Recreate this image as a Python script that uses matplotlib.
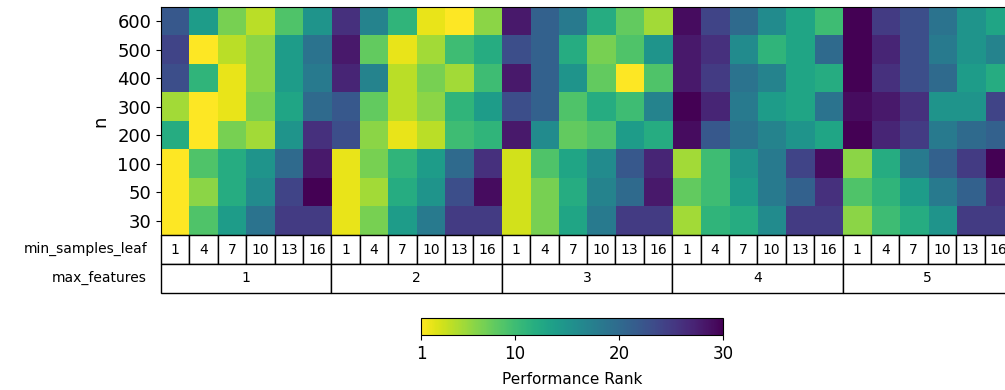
import numpy as np
import matplotlib
matplotlib.use("Agg")
import matplotlib.pyplot as plt
from matplotlib.patches import Rectangle

n_values = ["600", "500", "400", "300", "200", "100", "50", "30"]
min_samples_leaf = [1, 4, 7, 10, 13, 16]
max_features = [1, 2, 3, 4, 5]

# Performance rank per n (rows) for each (max_features, min_samples_leaf) combination
rank_600 = [22, 14, 7, 4, 9, 15,  26, 17, 11, 2, 1, 6,  28, 21, 18, 12, 8, 5,  29, 24, 20, 16, 13, 10,  30, 25, 23, 19, 15, 13]
rank_500 = [24, 1, 4, 6, 14, 19,  28, 8, 2, 5, 10, 12,  23, 21, 12, 7, 9, 15,  28, 26, 16, 11, 13, 20,  30, 27, 23, 18, 15, 17]
rank_400 = [23, 11, 2, 6, 14, 18,  27, 17, 4, 7, 5, 10,  28, 21, 15, 8, 1, 9,  28, 25, 19, 17, 13, 12,  30, 26, 23, 20, 14, 12]
rank_300 = [5, 1, 2, 7, 13, 20,  22, 8, 4, 6, 11, 14,  23, 21, 9, 12, 10, 17,  30, 27, 18, 14, 13, 19,  29, 28, 26, 15, 15, 24]
rank_200 = [12, 1, 7, 5, 15, 26,  23, 6, 2, 4, 10, 11,  28, 16, 8, 9, 14, 12,  29, 22, 19, 17, 15, 13,  30, 27, 25, 18, 20, 21]
rank_100 = [1, 9, 12, 15, 20, 28,  2, 7, 11, 14, 20, 26,  3, 9, 13, 16, 22, 27,  5, 10, 15, 18, 24, 29,  6, 12, 18, 21, 25, 30]
rank_50 = [1, 6, 12, 16, 24, 30,  2, 5, 12, 15, 23, 29,  3, 7, 12, 17, 20, 28,  8, 10, 14, 18, 21, 26,  9, 11, 14, 18, 21, 26]
rank_30 = [1, 9, 14, 19, 25, 25,  2, 7, 14, 18, 25, 25,  3, 7, 13, 18, 25, 25,  5, 11, 12, 16, 25, 25,  6, 10, 12, 15, 25, 25]

data = np.array([rank_600, rank_500, rank_400, rank_300, rank_200, rank_100, rank_50, rank_30])
ncols = data.shape[1]
nrows = data.shape[0]

W, H = 10.05, 3.9
fig = plt.figure(figsize=(W, H), dpi=100)

def px_axes(x0, y0, x1, y1):
    return fig.add_axes([x0 / 1005, 1 - y1 / 390, (x1 - x0) / 1005, (y1 - y0) / 390])

# Heatmap
ax = px_axes(161, 7, 1013, 235)
im = ax.imshow(data, cmap="viridis_r", vmin=1, vmax=30, aspect="auto",
               extent=(0, ncols, nrows, 0), interpolation="nearest")
ax.set_xlim(0, ncols)
ax.set_ylim(nrows, 0)
ax.set_yticks(np.arange(nrows) + 0.5)
ax.set_yticklabels(n_values, fontsize=13)
ax.set_xticks([])
ax.set_ylabel("n", fontsize=13, labelpad=6)
ax.tick_params(axis="y", length=3.5)

# Table of hyperparameters below
tax = px_axes(161, 235, 1013, 293)
tax.set_xlim(0, ncols)
tax.set_ylim(2, 0)
tax.axis("off")
for g, mf in enumerate(max_features):
    for j, msl in enumerate(min_samples_leaf):
        c = g * len(min_samples_leaf) + j
        tax.add_patch(Rectangle((c, 0), 1, 1, facecolor="white", edgecolor="black", lw=1, clip_on=False))
        tax.text(c + 0.5, 0.5, str(msl), ha="center", va="center", fontsize=10)
    x0 = g * len(min_samples_leaf)
    tax.add_patch(Rectangle((x0, 1), len(min_samples_leaf), 1, facecolor="white", edgecolor="black", lw=1, clip_on=False))
    tax.text(x0 + len(min_samples_leaf) / 2, 1.5, str(mf), ha="center", va="center", fontsize=10)
fig.text(147 / 1005, 1 - 249 / 390, "min_samples_leaf", ha="right", va="center", fontsize=10)
fig.text(147 / 1005, 1 - 278 / 390, "max_features", ha="right", va="center", fontsize=10)

# Colorbar
cax = px_axes(421, 318, 723, 335)
cb = fig.colorbar(im, cax=cax, orientation="horizontal")
cb.set_ticks([1, 10, 20, 30])
cb.ax.tick_params(labelsize=12)
cb.set_label("Performance Rank", fontsize=11, labelpad=7)

fig.savefig("out.png", dpi=100)
